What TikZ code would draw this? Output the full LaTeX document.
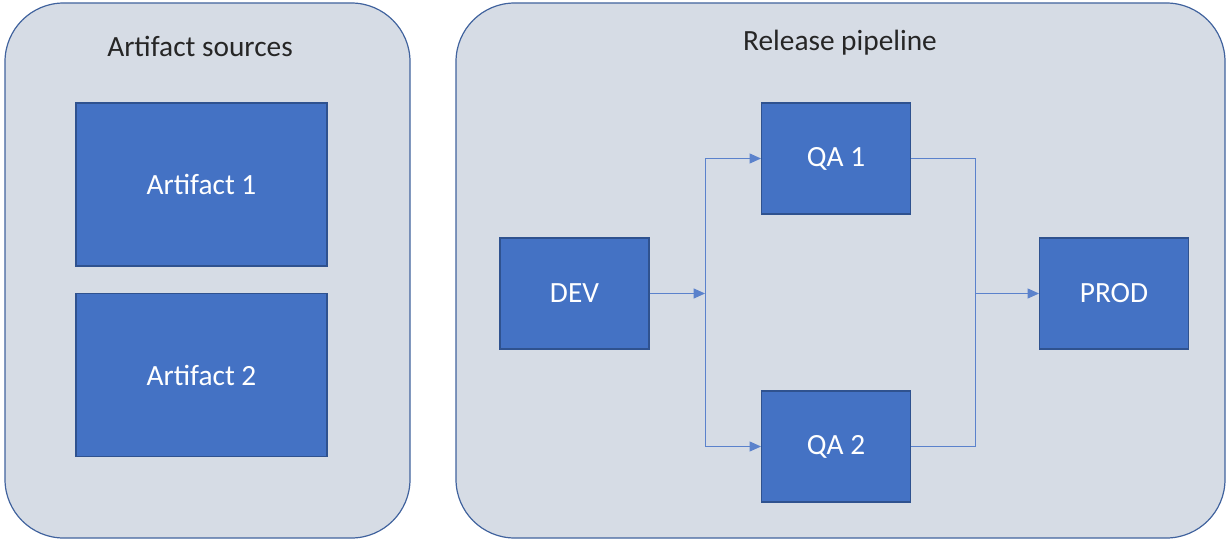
\documentclass[tikz,border=0pt]{standalone}
\usepackage{fontspec}
\setmainfont{Carlito}
\usetikzlibrary{arrows.meta,positioning}
\definecolor{PanelFill}{HTML}{D6DCE5}
\definecolor{PanelLine}{HTML}{41639E}
\definecolor{BoxFill}{HTML}{4472C4}
\definecolor{BoxLine}{HTML}{2F528F}
\definecolor{LinkCol}{HTML}{5B82CC}

\tikzset{
  panel/.style={draw=PanelLine, fill=PanelFill, line width=0.9pt,
                rounded corners=44pt, inner sep=0pt},
  stage/.style={draw=BoxLine, fill=BoxFill, line width=0.8pt,
                text=white, font=\fontsize{22}{26}\selectfont,
                minimum width=111.75pt, minimum height=83.25pt},
  source/.style={stage, minimum width=188.25pt, minimum height=122.25pt},
  heading/.style={font=\fontsize{22}{26}\selectfont, text=black!85},
  link/.style={draw=LinkCol, line width=0.75pt},
  flow/.style={link, -{Triangle[length=8.5pt,width=7.5pt]}}
}

\begin{document}
\begin{tikzpicture}[x=0.75pt,y=-0.75pt]
  \useasboundingbox (0,0) rectangle (1228,542);

  % containers
  \node[panel, minimum width=303.75pt, minimum height=401.25pt] (srcpanel) at (207.5,270.5) {};
  \node[panel, minimum width=576.75pt, minimum height=401.25pt] (relpanel) at (840.5,270.5) {};
  \node[heading] (srctitle) at (200,46) {Artifact sources};
  \node[heading] (reltitle) at (840,43) {Release pipeline};

  % artifact sources
  \node[source] (art1) at (201.5,184.5) {Artifact 1};
  \node[source] (art2) at (201.5,375) {Artifact 2};

  % release stages
  \node[stage] (dev) at (574.5,293.5) {DEV};
  \node[stage] (qa1) at (836,158.5) {QA 1};
  \node[stage] (qa2) at (836,446.5) {QA 2};
  \node[stage] (prod) at (1114,293.5) {PROD};

  \coordinate (split) at (705,293.5);
  \coordinate (merge) at (975,293.5);

  \draw[flow] (dev) -- (split);
  \draw[flow] (split) |- (qa1);
  \draw[flow] (split) |- (qa2);
  \draw[link] (qa1) -| (merge);
  \draw[link] (qa2) -| (merge);
  \draw[flow] (merge) -- (prod);
\end{tikzpicture}
\end{document}
